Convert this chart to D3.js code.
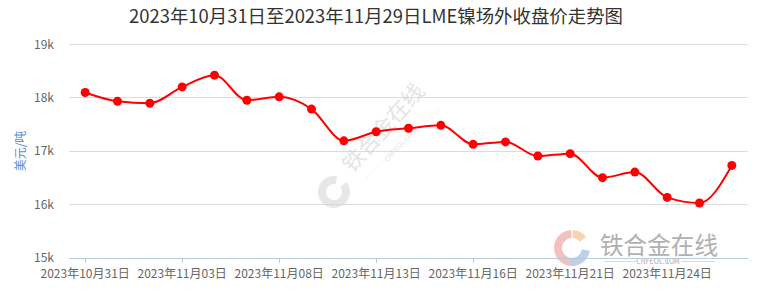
<!DOCTYPE html>
<html><head><meta charset="utf-8">
<script src="https://cdn.jsdelivr.net/npm/d3@7/dist/d3.min.js"></script>
<style>html,body{margin:0;padding:0;background:#fff;}svg{display:block;font-family:"Noto Sans CJK SC","Noto Sans",sans-serif;}</style>
</head><body>
<svg id="c" width="757" height="291"></svg>
<script>
const titleText = "2023年10月31日至2023年11月29日LME镍场外收盘价走势图";
const yAxisName = "美元/吨";
const categories = ["2023年10月31日","2023年11月01日","2023年11月02日","2023年11月03日","2023年11月06日","2023年11月07日","2023年11月08日","2023年11月09日","2023年11月10日","2023年11月13日","2023年11月14日","2023年11月15日","2023年11月16日","2023年11月17日","2023年11月20日","2023年11月21日","2023年11月22日","2023年11月23日","2023年11月24日","2023年11月27日","2023年11月29日"];
const values = [18100,17935,17900,18205,18425,17955,18020,17790,17195,17365,17430,17485,17130,17175,16910,16955,16505,16610,16135,16030,16735];
const yTicks = [15000,16000,17000,18000,19000];
const yTickLabels = ["15k","16k","17k","18k","19k"];

const svg = d3.select("#c");
const L = 69, R = 748, T = 44.5, B = 258;
const x = d3.scaleBand().domain(categories).range([L, R]);
const y = d3.scaleLinear().domain([15000, 19000]).range([B, T]);
const cx = d => x(d) + x.bandwidth() / 2;

// title
svg.append("text").attr("x", 376).attr("y", 23).attr("text-anchor", "middle")
  .attr("font-size", 18).attr("fill", "#333").attr("textLength", 494).attr("lengthAdjust", "spacingAndGlyphs")
  .text(titleText);

// grid
svg.append("g").selectAll("line").data(yTicks.slice(1)).join("line")
  .attr("x1", L).attr("x2", R).attr("y1", d => y(d)).attr("y2", d => y(d))
  .attr("stroke", "#dcdcdc").attr("stroke-width", 1).attr("shape-rendering", "crispEdges");

// y labels
svg.append("g").selectAll("text").data(yTicks).join("text")
  .attr("x", 54).attr("y", d => y(d)).attr("dy", "0.35em").attr("text-anchor", "end")
  .attr("font-size", 12).attr("fill", "#666").text((d, i) => yTickLabels[i]);

// y axis name
svg.append("text").attr("transform", "translate(25,151) rotate(-90)").attr("text-anchor", "middle")
  .attr("font-size", 12).attr("fill", "#5b8fc7").text(yAxisName);

// watermark center
const wm = svg.append("g").attr("opacity", 0.55);
wm.append("text").attr("transform", "translate(389,133) rotate(-48)").attr("text-anchor", "middle")
  .attr("font-size", 22).attr("fill", "#cfcfcf").text("铁合金在线");
wm.append("text").attr("transform", "translate(402,146) rotate(-48)").attr("text-anchor", "middle")
  .attr("font-size", 7).attr("fill", "#cfcfcf").text("CNFEOL.COM");
wm.append("line").attr("x1", 364).attr("y1", 180).attr("x2", 440).attr("y2", 108).attr("stroke", "#e2e2e2").attr("stroke-width", 0.6);
const arcC = d3.arc();
wm.append("path").attr("transform", "translate(334,192)")
  .attr("d", arcC({innerRadius: 8, outerRadius: 16, startAngle: 0.9, endAngle: 2 * Math.PI + 0.2}))
  .attr("fill", "#d4d4d4");

// bottom-right logo
const lg = svg.append("g");
lg.append("path").attr("transform", "translate(572,248)").attr("opacity", 0.6)
  .attr("d", arcC({innerRadius: 10, outerRadius: 18, startAngle: -Math.PI * 0.95, endAngle: -0.05}))
  .attr("fill", "#ec9a92");
lg.append("path").attr("transform", "translate(572,248)").attr("opacity", 0.6)
  .attr("d", arcC({innerRadius: 10, outerRadius: 18, startAngle: 0.05, endAngle: 0.9}))
  .attr("fill", "#f3b77a");
lg.append("path").attr("transform", "translate(572,248)").attr("opacity", 0.6)
  .attr("d", arcC({innerRadius: 10, outerRadius: 18, startAngle: Math.PI * 0.55, endAngle: Math.PI * 1.05}))
  .attr("fill", "#8fb0dc");
lg.append("text").attr("x", 600).attr("y", 254).attr("font-size", 24).attr("fill", "#b0b0b0")
  .attr("textLength", 118).attr("lengthAdjust", "spacingAndGlyphs").text("铁合金在线");
lg.append("text").attr("x", 658).attr("y", 264).attr("text-anchor", "middle").attr("font-size", 7).attr("fill", "#aaa").text("CNFEOL.COM");
lg.append("line").attr("x1", 604).attr("x2", 636).attr("y1", 261.5).attr("y2", 261.5).attr("stroke", "#ccc").attr("stroke-width", 0.7);
lg.append("line").attr("x1", 681).attr("x2", 715).attr("y1", 261.5).attr("y2", 261.5).attr("stroke", "#ccc").attr("stroke-width", 0.7);

// x axis
const axisColor = "#b8cadd";
svg.append("line").attr("x1", L).attr("x2", R).attr("y1", B + 0.5).attr("y2", B + 0.5).attr("stroke", axisColor);
const labelled = categories.filter((d, i) => i % 3 === 0);
svg.append("g").selectAll("line").data(labelled).join("line")
  .attr("x1", d => Math.round(cx(d)) + 0.5).attr("x2", d => Math.round(cx(d)) + 0.5)
  .attr("y1", B).attr("y2", B + 5).attr("stroke", axisColor);
svg.append("g").selectAll("text").data(labelled).join("text")
  .attr("x", d => cx(d)).attr("y", 278).attr("text-anchor", "middle")
  .attr("font-size", 12).attr("fill", "#666").text(d => d);

// line
const line = d3.line().x((d, i) => cx(categories[i])).y(d => y(d)).curve(d3.curveMonotoneX);
svg.append("path").datum(values).attr("d", line).attr("fill", "none").attr("stroke", "#ff0000").attr("stroke-width", 2);
svg.append("g").selectAll("circle").data(values).join("circle")
  .attr("cx", (d, i) => cx(categories[i])).attr("cy", d => y(d)).attr("r", 4.5).attr("fill", "#ff0000");
</script>
</body></html>
